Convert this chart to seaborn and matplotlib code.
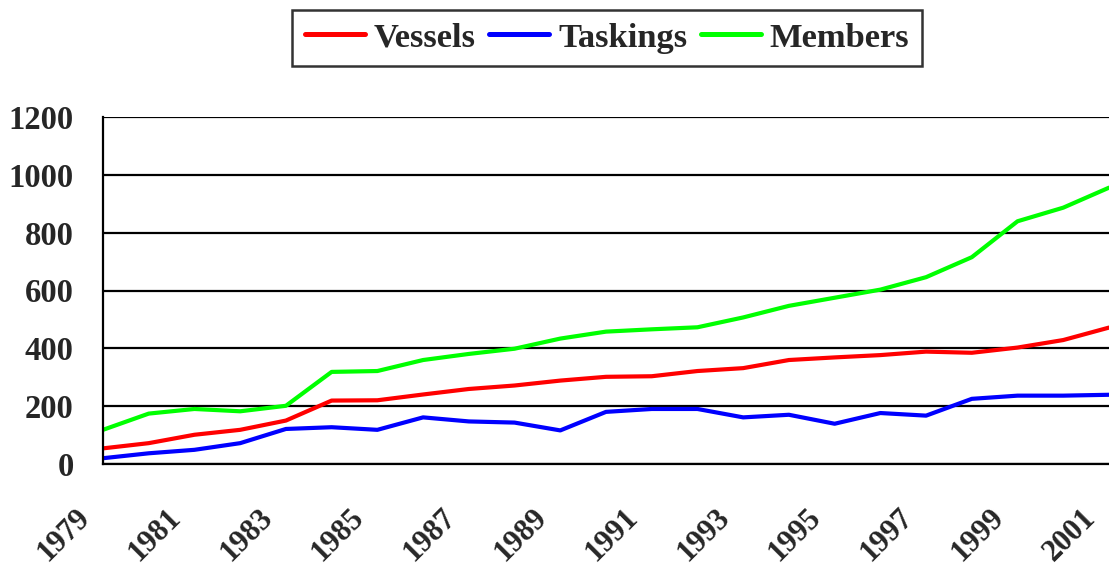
import numpy as np
import pandas as pd
import matplotlib
matplotlib.use("Agg")
import matplotlib.pyplot as plt
import matplotlib.transforms as mtransforms
import seaborn as sns

years = list(range(1979, 2002))
vessels = [55, 73, 102, 119, 151, 220, 221, 241, 260, 272, 289, 302, 304, 322, 332, 360, 369, 377, 389, 385, 403, 429, 472]
taskings = [21, 38, 50, 73, 122, 128, 119, 162, 148, 144, 117, 181, 191, 191, 162, 171, 140, 177, 168, 226, 237, 237, 240]
members = [119, 175, 191, 183, 202, 319, 322, 360, 381, 399, 434, 458, 466, 473, 507, 547, 575, 603, 646, 715, 839, 886, 955]
series_names = ["Vessels", "Taskings", "Members"]
colors = ["#FF0000", "#0000FF", "#00FF00"]
y_ticks = [0, 200, 400, 600, 800, 1000, 1200]
x_labels = [str(y) for y in years if (y - 1979) % 2 == 0]

df = pd.DataFrame({"Year": years, "Vessels": vessels, "Taskings": taskings, "Members": members})
long = df.melt(id_vars="Year", var_name="Series", value_name="Value")

sns.set_style("white")
plt.rcParams["font.family"] = ["Liberation Serif", "DejaVu Serif"]
plt.rcParams["font.weight"] = "bold"

fig = plt.figure(figsize=(11.09, 5.70), dpi=100)
ax = fig.add_axes([103 / 1109, 1 - 464.3 / 570, 1 - 103 / 1109, (464.3 - 116.7) / 570])

sns.lineplot(data=long, x="Year", y="Value", hue="Series", hue_order=series_names,
             palette=dict(zip(series_names, colors)), linewidth=3.0, ax=ax, legend=False)

ax.set_xlim(1979, 2001)
ax.set_ylim(0, 1200)
ax.set_yticks(y_ticks)
ax.set_yticklabels([str(v) for v in y_ticks], fontsize=23.5, fontweight="bold")
ax.set_xticks(years)
ax.set_xticklabels([""] * len(years))

# rotated year labels, every second year
base = mtransforms.blended_transform_factory(ax.transData, ax.transAxes)
off = mtransforms.ScaledTranslation(-28 / 100, -39 / 100, fig.dpi_scale_trans)
for lab in x_labels:
    ax.text(int(lab), 0, lab, transform=base + off, rotation=45, rotation_mode="anchor",
            ha="right", va="top", fontsize=22, fontweight="bold", clip_on=False)

ax.set_xlabel("")
ax.set_ylabel("")
ax.grid(axis="y", color="black", linewidth=1.6)
ax.grid(axis="x", visible=False)
ax.set_axisbelow(True)
for s in ["top", "right"]:
    ax.spines[s].set_visible(False)
for s in ["left", "bottom"]:
    ax.spines[s].set_color("black")
    ax.spines[s].set_linewidth(1.6)
ax.tick_params(axis="both", direction="out", length=8, width=1.5, color="black")
ax.tick_params(axis="y", pad=13)

handles = [plt.Line2D([], [], color=c, linewidth=3.6, solid_capstyle="round") for c in colors]
leg = fig.legend(handles, series_names, loc="center", bbox_to_anchor=(607 / 1109, 1 - 38 / 570),
                 ncol=3, frameon=True, fancybox=False, shadow=False, edgecolor="black",
                 prop={"family": "Liberation Serif", "weight": "bold", "size": 24.8},
                 handlelength=1.75, handletextpad=0.25, columnspacing=0.4, borderpad=0.36,
                 borderaxespad=0)
leg.get_frame().set_linewidth(1.8)

fig.savefig("out.png", dpi=100)
